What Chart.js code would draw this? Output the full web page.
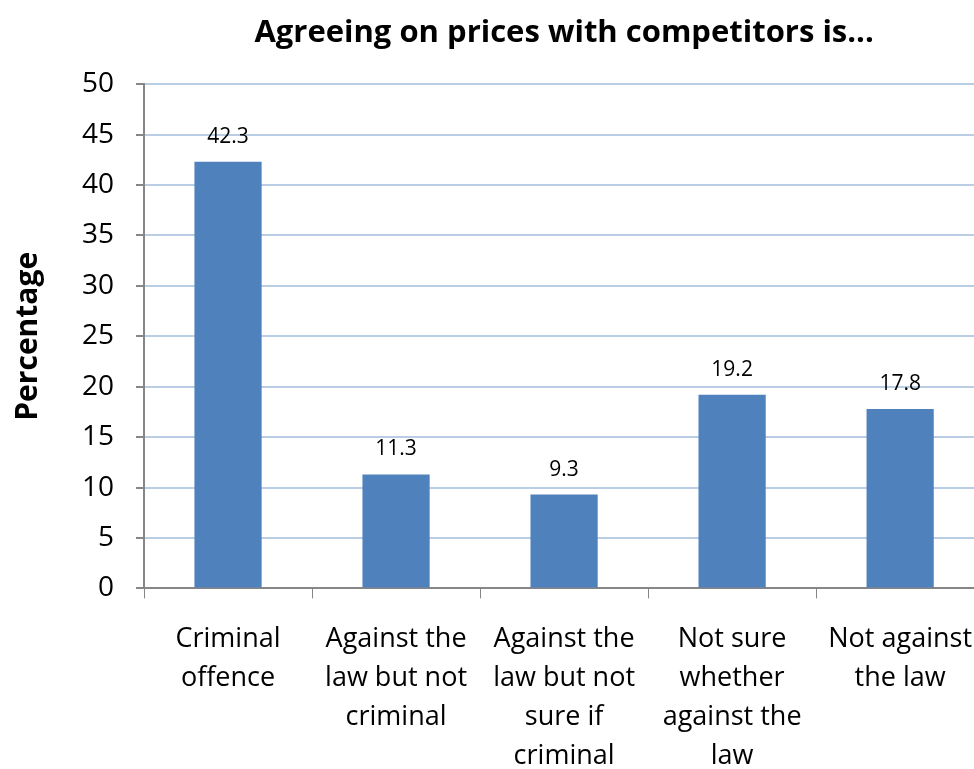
<!DOCTYPE html>
<html>
<head>
<meta charset="utf-8">
<script src="https://cdn.jsdelivr.net/npm/chart.js@4/dist/chart.umd.min.js"></script>
<style>
  html, body { margin: 0; padding: 0; background: #fff; overflow: hidden; }
  canvas { display: block; }
</style>
</head>
<body>
<canvas id="chart1" width="994" height="797"></canvas>
<script>
// data
const categories = [
    ['Criminal', 'offence'],
    ['Against the', 'law but not', 'criminal'],
    ['Against the', 'law but not', 'sure if', 'criminal'],
    ['Not sure', 'whether', 'against the', 'law'],
    ['Not against', 'the law']
];
const percentages = [42.3, 11.3, 9.3, 19.2, 17.8];
const yTicks = [0, 5, 10, 15, 20, 25, 30, 35, 40, 45, 50];

const FONT = "'Open Sans', sans-serif";

// draws the value above each bar
const valueLabels = {
    id: 'valueLabels',
    afterDatasetsDraw(chart) {
        const c = chart.ctx;
        c.save();
        c.font = '21px ' + FONT;
        c.fillStyle = '#000';
        c.textAlign = 'center';
        c.textBaseline = 'middle';
        chart.getDatasetMeta(0).data.forEach((bar, i) => {
            c.fillText(percentages[i].toFixed(1), bar.x, bar.y - 25);
        });
        c.restore();
    }
};

const ctx1 = document.getElementById('chart1').getContext('2d');
const chart1 = new Chart(ctx1, {
    type: 'bar',
    data: {
        labels: categories,
        datasets: [{
            label: 'Percentage',
            data: percentages,
            backgroundColor: '#4F81BD',
            borderWidth: 0,
            categoryPercentage: 1,
            barPercentage: 0.4
        }]
    },
    options: {
        responsive: false,
        animation: false,
        devicePixelRatio: 1,
        layout: { padding: { left: 10, right: 1, top: 0, bottom: 0 } },
        plugins: {
            legend: { display: false },
            tooltip: { enabled: false },
            title: {
                display: true,
                text: 'Agreeing on prices with competitors is...',
                color: '#000',
                fullSize: false,
                font: { family: FONT, size: 31, weight: 'bold' },
                padding: { top: 15, bottom: 32 }
            }
        },
        scales: {
            x: {
                offset: true,
                grid: {
                    offset: true,
                    drawOnChartArea: false,
                    color: '#868686',
                    tickColor: '#868686',
                    tickLength: 10
                },
                border: { color: '#868686', width: 2 },
                ticks: {
                    color: '#000',
                    font: { family: FONT, size: 27, lineHeight: 1.45 },
                    padding: 21,
                    maxRotation: 0,
                    autoSkip: false
                }
            },
            y: {
                min: 0,
                max: 50,
                afterBuildTicks: (axis) => {
                    axis.ticks = yTicks.map(v => ({ value: v }));
                },
                grid: {
                    color: '#B9CDE5',
                    lineWidth: 2,
                    tickColor: '#868686',
                    tickLength: 8
                },
                border: { color: '#868686', width: 2 },
                ticks: {
                    color: '#000',
                    font: { family: FONT, size: 28 },
                    padding: 22
                },
                title: {
                    display: true,
                    text: 'Percentage',
                    color: '#000',
                    font: { family: FONT, size: 30, weight: 'bold' },
                    padding: { top: 0, bottom: 14 }
                }
            }
        }
    },
    plugins: [valueLabels]
});
</script>
</body>
</html>
